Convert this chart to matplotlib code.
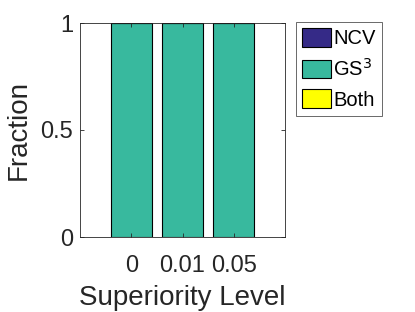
import numpy as np
import matplotlib.pyplot as plt

plt.rcParams['font.family'] = ['Liberation Sans', 'DejaVu Sans']

levels = ['0', '0.01', '0.05']
ncv = [0, 0, 0]
gs3 = [1, 1, 1]
both = [0, 0, 0]

fig = plt.figure(figsize=(4.15, 3.12), dpi=100)
ax = fig.add_axes([80/415, 1-237/312, 205/415, 214/312])

x = np.arange(1, len(levels)+1)
ax.bar(x, ncv, 0.8, color='#352a87', edgecolor='k', linewidth=0.8, label='NCV')
ax.bar(x, gs3, 0.8, bottom=ncv, color='#38b99e', edgecolor='k', linewidth=0.8, label='GS$^3$')
ax.bar(x, both, 0.8, bottom=np.add(ncv, gs3), color='#ffff00', edgecolor='k', linewidth=0.8, label='Both')

ax.set_xlim(0, 4)
ax.set_ylim(0, 1)
ax.set_xticks(x)
ax.set_xticklabels(levels)
ax.set_yticks([0, 0.5, 1])
ax.set_yticklabels(['0', '0.5', '1'])
ax.tick_params(labelsize=17, color='#262626', labelcolor='#262626', direction='in', length=3, width=0.6,
               right=True, top=True)
ax.tick_params(axis='x', pad=13)
ax.tick_params(axis='y', pad=5)
for s in ax.spines.values():
    s.set_color('#262626')
    s.set_linewidth(0.6)
ax.set_xlabel('Superiority Level', fontsize=20, color='#262626', labelpad=6)
ax.set_ylabel('Fraction', fontsize=20, color='#262626', labelpad=6)

leg = ax.legend(loc='upper left', bbox_to_anchor=(296/415, 1-22/312), bbox_transform=fig.transFigure,
                fontsize=14.5, frameon=True, fancybox=False, edgecolor='#262626',
                handlelength=1.45, handleheight=1.05, borderpad=0.3, labelspacing=0.48, handletextpad=0.1,
                borderaxespad=0)
leg.get_frame().set_linewidth(0.6)

fig.savefig('out.png', dpi=100)
